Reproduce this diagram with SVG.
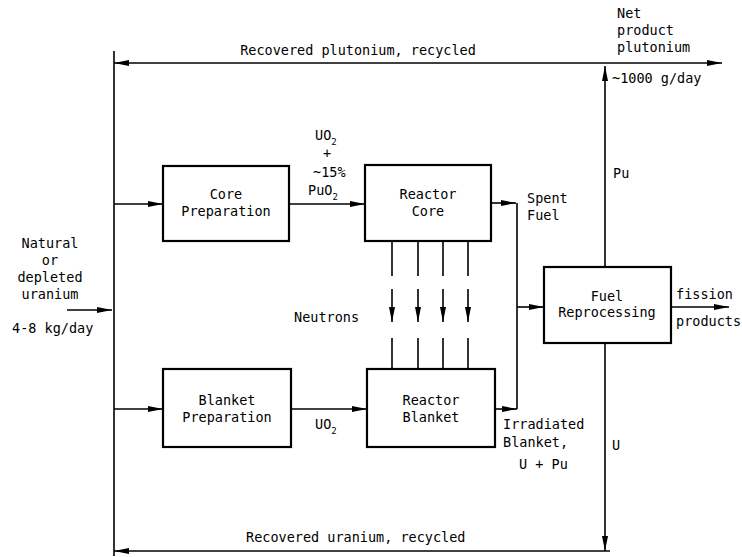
<svg xmlns="http://www.w3.org/2000/svg" width="742" height="557" viewBox="0 0 742 557">
<style>
.box{fill:#fff;stroke:#000;stroke-width:2.2}
.c{fill:none;stroke:#000;stroke-width:1.6}
text{font-family:"DejaVu Sans Mono","Liberation Mono",monospace;font-size:13.5px;fill:#000}
.m{text-anchor:middle}
.sub{font-size:9px}
</style>
<defs>
<marker id="a" markerUnits="userSpaceOnUse" markerWidth="15" markerHeight="6" refX="15" refY="3" orient="auto-start-reverse" viewBox="0 0 15 6">
<path d="M0,0 L15,3 L0,6 z" fill="#000"/>
</marker>
</defs>
<rect width="742" height="557" fill="#fff"/>
<g id="connectors">
<path class="c" d="M114,63 H722" marker-start="url(#a)" marker-end="url(#a)"/>
<path class="c" d="M114,51 V556"/>
<path class="c" d="M610,551 H114" marker-end="url(#a)"/>
<path class="c" d="M605,267 V66" marker-end="url(#a)"/>
<path class="c" d="M605,343 V551" marker-end="url(#a)"/>
<path class="c" d="M67,310 H112" marker-end="url(#a)"/>
<path class="c" d="M114,204 H163" marker-end="url(#a)"/>
<path class="c" d="M289,204 H365" marker-end="url(#a)"/>
<path class="c" d="M114,409 H163" marker-end="url(#a)"/>
<path class="c" d="M291,409 H367" marker-end="url(#a)"/>
<path class="c" d="M491,203 H516" marker-end="url(#a)"/>
<path class="c" d="M517,203 V409"/>
<path class="c" d="M495,409 H517" marker-end="url(#a)"/>
<path class="c" d="M517,307 H544" marker-end="url(#a)"/>
<path class="c" d="M671,307 H729" marker-end="url(#a)"/>
<g id="neutrons">
<path class="c" d="M392,241 V276 M418,241 V276 M443,241 V276 M468,241 V276"/>
<path class="c" d="M392,289 V322" marker-end="url(#a)"/>
<path class="c" d="M418,289 V322" marker-end="url(#a)"/>
<path class="c" d="M443,289 V322" marker-end="url(#a)"/>
<path class="c" d="M468,289 V322" marker-end="url(#a)"/>
<path class="c" d="M392,338 V369 M418,338 V369 M443,338 V369 M468,338 V369"/>
</g>
</g>
<g id="core-prep">
<rect class="box" x="163" y="166" width="126" height="75"/>
<text class="m" x="226" y="199">Core</text>
<text class="m" x="226" y="216">Preparation</text>
</g>
<g id="reactor-core">
<rect class="box" x="365" y="165" width="126" height="76"/>
<text class="m" x="428" y="199">Reactor</text>
<text class="m" x="428" y="216">Core</text>
</g>
<g id="blanket-prep">
<rect class="box" x="163" y="369" width="128" height="78"/>
<text class="m" x="227" y="405">Blanket</text>
<text class="m" x="227" y="422">Preparation</text>
</g>
<g id="reactor-blanket">
<rect class="box" x="367" y="369" width="128" height="78"/>
<text class="m" x="431" y="405">Reactor</text>
<text class="m" x="431" y="422">Blanket</text>
</g>
<g id="fuel-reprocessing">
<rect class="box" x="544" y="267" width="127" height="76"/>
<text class="m" x="607" y="301">Fuel</text>
<text class="m" x="607" y="317">Reprocessing</text>
</g>
<g id="labels">
<text class="m" x="358" y="55">Recovered plutonium, recycled</text>
<text x="617" y="18">Net</text>
<text x="617" y="35">product</text>
<text x="617" y="52">plutonium</text>
<text x="612" y="83">~1000 g/day</text>
<text x="613" y="178">Pu</text>
<text x="315" y="140">UO<tspan class="sub" dy="5">2</tspan></text>
<text class="m" x="327" y="158">+</text>
<text x="313" y="177">~15%</text>
<text x="308" y="195">PuO<tspan class="sub" dy="5">2</tspan></text>
<text x="527" y="203">Spent</text>
<text x="527" y="220">Fuel</text>
<text class="m" x="50" y="248">Natural</text>
<text class="m" x="50" y="265">or</text>
<text class="m" x="50" y="282">depleted</text>
<text class="m" x="50" y="299">uranium</text>
<text x="12" y="333">4-8 kg/day</text>
<text x="294" y="322">Neutrons</text>
<text x="676" y="299">fission</text>
<text x="676" y="326">products</text>
<text x="315" y="429">UO<tspan class="sub" dy="5">2</tspan></text>
<text x="503" y="429">Irradiated</text>
<text x="503" y="447">Blanket,</text>
<text x="519" y="469">U + Pu</text>
<text x="612" y="450">U</text>
<text x="246" y="542">Recovered uranium, recycled</text>
</g>
</svg>
